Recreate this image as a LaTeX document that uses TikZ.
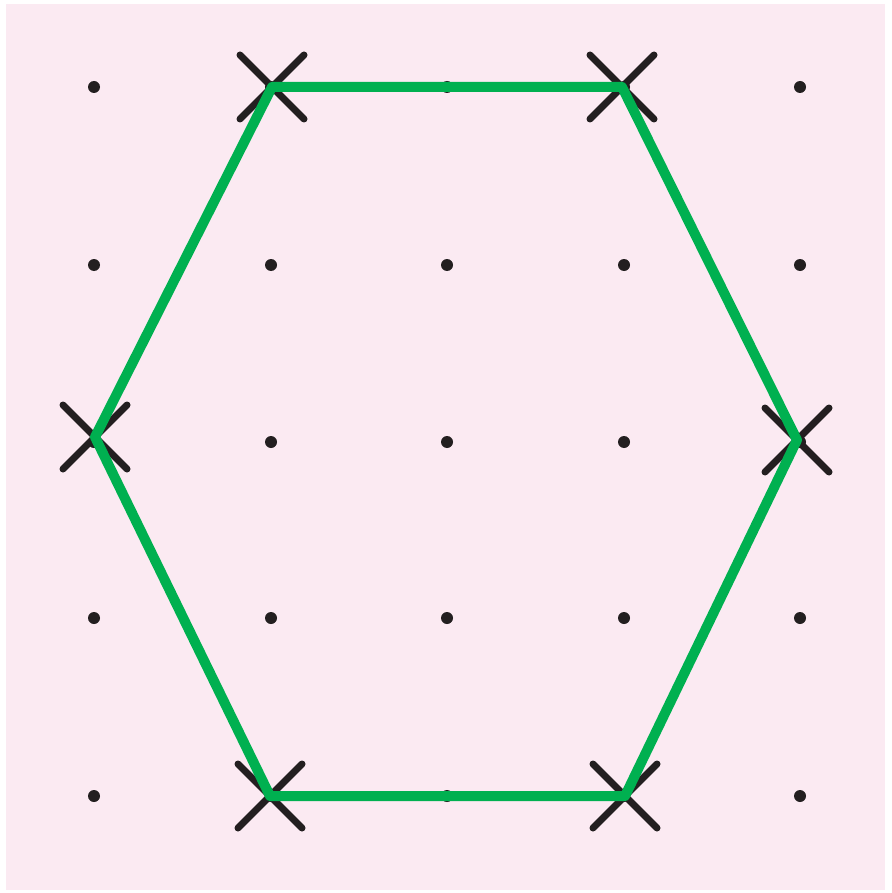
\documentclass[tikz,border=0pt]{standalone}
\usepackage{tikz}
\usetikzlibrary{calc}
\definecolor{bgpink}{RGB}{251, 234, 242}
\definecolor{hexgreen}{RGB}{0, 176, 80}
\definecolor{markdark}{RGB}{35, 31, 32}
\tikzset{
    griddot/.style={circle, fill=markdark, inner sep=0pt, minimum size=12pt},
    crossmark/.style={line width=7pt, markdark, line cap=round},
    hexedge/.style={line width=10pt, hexgreen, line join=round}
}

\begin{document}
\begin{tikzpicture}[x=1pt, y=-1pt]
        \useasboundingbox (0,0) rectangle (891,893);
        \fill[bgpink] (6,4) rectangle (885,890);
        % grid of dots
        \foreach \x [count=\i] in {94, 271, 447, 624, 800}
            \foreach \y [count=\j] in {87, 265, 442, 618, 796}
            {
                \node[griddot] (d\i\j) at (\x,\y) {};
            }
        % corners of the hexagon
        \coordinate (v1) at (272,87);
        \coordinate (v2) at (622,87);
        \coordinate (v3) at (797,440);
        \coordinate (v4) at (625,796);
        \coordinate (v5) at (270,796);
        \coordinate (v6) at (95,437);
        \foreach \v in {v1, v2, v3, v4, v5, v6}
        {
            \draw[crossmark] ($(\v)+(-32,-32)$) -- ($(\v)+(32,32)$);
            \draw[crossmark] ($(\v)+(-32,32)$) -- ($(\v)+(32,-32)$);
        }
        \draw[hexedge] (v1) -- (v2) -- (v3) -- (v4) -- (v5) -- (v6) -- cycle;
    \end{tikzpicture}
\end{document}
